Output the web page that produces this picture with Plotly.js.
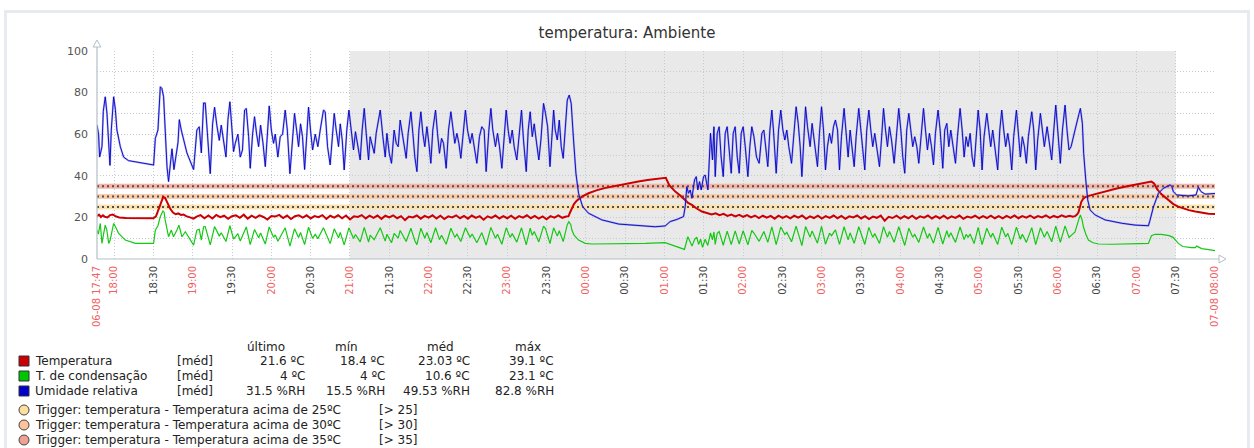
<!DOCTYPE html>
<html><head><meta charset="utf-8">
<script src="https://cdn.plot.ly/plotly-3.0.1.min.js"></script>
<style>
html,body{margin:0;padding:0;background:#fff;width:1254px;height:448px;overflow:hidden;}
#frame{position:absolute;left:4px;top:10px;width:1246px;height:470px;border:3px solid #e7eaee;box-sizing:border-box;}
#chart{position:absolute;left:0;top:0;width:1254px;height:448px;}
</style></head><body>
<div id="frame"></div><div id="chart"></div>
<script>
// ---- time axis: minutes after 06-08 17:47 ----
const startLabel = '06-08 17:47';
const tickLabels = ['06-08 17:47','18:00','18:30','19:00','19:30','20:00','20:30','21:00','21:30','22:00','22:30','23:00','23:30','00:00','00:30','01:00','01:30','02:00','02:30','03:00','03:30','04:00','04:30','05:00','05:30','06:00','06:30','07:00','07:30','07-08 08:00'];
const nonWorkStart = '21:00', nonWorkEnd = '07:30';

// ---- Umidade relativa (%RH) ----
const humT = [0,1.2,2,3.8,4.8,6.3,7.6,8.9,9.9,10.9,
12.7,14,15.2,17.8,20.3,24,31.8,43.2,44.5,46.5,
48.3,49.5,50.8,52,53.4,54.6,55.9,57.2,58.7,60.2,
61.8,62.8,64.3,68.6,73.7,76.2,78,79.6,81.3,82.6,
84.6,86.4,88.2,89.7,91.5,93.3,94.8,96.6,98.4,99.9,
101.4,103,104.2,105.5,107.5,109.3,111,112.6,113.9,115.7,
116.9,118.7,120.2,121.8,123.3,124.8,126.6,128.4,129.9,131.4,
133,134.7,136,138,139.8,141.6,143.6,145.2,147.2,149.2,
150.7,152.3,153.8,155.3,156.8,158.4,159.9,161.4,162.9,164.5,
166.5,168.5,170.3,172.8,174.1,175.9,177.9,179.5,181,182.5,
184.3,185.6,187.1,188.6,190.6,192.2,193.7,195.7,197.2,198.8,
200.8,202.3,203.9,205.4,207.2,208.4,210,211.5,213,216.1,
218.1,219.9,221.2,223,224.7,226.7,228.3,229.8,231.3,232.8,
234.4,235.9,237.4,239.5,241,242.5,244.1,245.6,247.1,248.6,
250.1,251.7,253.2,254.7,256.2,258.3,259.8,261.3,262.9,264.4,
266.4,268.2,270,271.5,273,274.6,276.1,277.6,279.1,281.1,
282.7,284.7,286.2,287.8,289.8,291.8,293.6,295.4,296.9,299,
300.5,302,304,305.6,307.1,308.9,310.7,312.2,313.7,315.2,
316.8,318.3,320.3,322.4,323.9,325.4,327.5,329,330.5,332.1,
333.6,335.1,337.1,338.7,340.7,342.2,343.8,345.6,347.1,348.4,
349.6,351.2,352.7,354.2,355.7,357.3,358.8,360.3,361.8,363.6,
365.4,367.4,370.5,375,385.2,398,413.2,425.9,433.5,437.3,
442.4,447.5,448.8,450,451.3,452.6,453.9,455.9,457.2,458.4,
459.7,461,462.8,464,466.1,467.1,468.1,469.6,470.7,471.7,
473.2,474.7,476.2,477.8,479.3,480.8,482.4,483.9,485.4,486.9,
488.5,490,491.5,493,494.6,496.6,498.1,499.6,501.2,503.2,
505.2,507.3,508.8,510.3,511.8,513.4,514.9,516.1,518.2,520,
521.7,523.3,524.8,526.3,527.8,529.9,531.9,533.4,535,536.5,
537.8,539,540.6,542.1,544.1,545.6,547.7,549.7,551.2,552.8,
554.3,555.8,557.3,558.9,560.4,561.9,563.4,565,566.5,568,
570,571.6,573.1,574.6,576.1,577.7,579.2,581.2,582.8,584.3,
585.8,587.3,588.9,590.4,591.9,593.4,595,597,598.5,600.1,
601.6,603.1,604.6,606.2,608.2,609.7,611.7,613.3,614.8,616.3,
617.8,619.4,620.9,622.4,623.9,625.5,627,628.5,630.6,632.1,
633.6,635.1,636.7,638.2,639.7,641.7,643.3,645.3,646.8,648.4,
649.9,651.4,652.9,655,656.5,658.5,660.1,661.6,663.1,664.6,
666.2,667.7,669.2,670.7,672.3,673.8,675.3,676.8,678.9,680.4,
681.9,683.4,685,687.2,688.8,690.3,691.8,693.3,694.9,696.4,
697.9,699.4,701.5,703,704.5,706,707.6,709.1,710.6,713.2,
714.7,716.2,717.7,719.8,721.3,722.8,724.9,726.4,728.4,730,
731.5,733,735,736.6,738.6,740.1,741.6,743.2,744.7,746.2,
749.3,750.3,751.8,752.8,754.4,755.9,757.7,761.5,769.1,781.8,
792,802.2,803.4,806,809.8,813.6,818.7,820,821.2,823.8,
832.7,836.5,838.5,840.3,842.3,845.4,853];
const humV = [64.4,60,49,54,71,78,70,54,45,62,
78,72,62,54,49,47.3,46.3,45.2,58,62,
82.8,82,78,59,44.4,37.2,46,53,43,49,
56,67,62,51,43,62,63.6,51,75,75,
54,41,65,73,64,57,64.4,56,49,67,
75.6,62,51.6,55.6,60,49,52.4,71.6,72.4,58.8,
43.6,60,68.4,60,54,64.4,56,44.4,62,73.6,
62,55.6,60,49,58.8,60,71.6,62,41,55.6,
70,62,54,65,58.8,43,57,73,62,52.4,
60,54,62,71.6,70.8,54,45.2,58.8,70,62,
54,65,57.2,42.8,62,71.6,62,52.4,61.2,54,
47.6,62,72.4,60.4,47.6,58.8,54,50.8,60.4,71.6,
58.8,49,60.4,50.8,46,62,55.6,54,66.8,60.4,
54,48.4,60.4,70.8,60.4,49,42,62,70.8,60.4,
54,63.6,55.6,46,62,71.6,60.4,50.8,58,55.6,
43.6,62,70.8,63.6,55.6,60.4,55.6,48.4,57.2,71.6,
62,55.6,60.4,54,46,58.8,63.6,62,42,62,
72.4,62,54,60.4,54,43.6,60.4,71.6,62,55.6,
62,54,47.6,63.6,71.6,57.2,42,62,70.8,58.8,
65,57.2,47.6,57.2,74.8,70,63.6,44.4,58.8,71.6,
62,57.2,66.8,54,48.4,63.6,76.4,78.8,74.8,57.2,
41.2,31.6,25.2,22,18.8,16.8,15.9,15.5,15.9,18,
19,20.4,25.2,34.8,31.6,33.2,29.2,38,39.6,33.2,
37.2,33.2,39.6,40.4,33.2,46,60.4,47.6,63.6,39.6,
60.4,63.6,49,39.6,60.4,63.6,50.8,41.2,60.4,63.6,
49,41.2,60.4,63.6,54,39.6,54,63.6,58.8,49,
46,60.4,62,54,44.4,62,71.6,62,41.2,62,
71.6,62,57.2,62,54,46,62,73.2,65.2,54,
39.6,57.2,73.2,63.6,54,65.2,54,44.4,60.4,73.2,
62,42.8,54,60.4,55.6,63.6,66.8,62,42.8,58.8,
72.4,62,49,62,54,44.4,58.8,72.4,62,50.8,
42.8,62,71.6,62,54,60.4,54,44.4,57.2,72.4,
62,54,63.6,57.2,46,58.8,72.4,62,49,41.2,
62,70,62,54,58.8,54,46,58.8,72.4,62,
52.4,60.4,54,45.2,60.4,71.6,62,43.6,62,65.2,
54,62,55.6,46,58.8,72.4,62,49,58.8,54,
60.4,49,44.4,58.8,71.6,62,42.8,58.8,70,62,
54,62,54,42.8,62,71.6,62,54,60.4,54,
42.8,58.8,71.6,62,49,58.8,54,46,58.8,70.8,
62,42.8,57.2,70,62,54,63.6,57.2,47.6,62,
74,62,46,62,74,62,52.4,54,58.8,62,
70,72.4,65.2,50.8,38,28.4,23.6,21.2,18.8,17.2,
16.3,16,18.6,25,31.6,34,35.6,35,32.4,30.8,
30.3,30.8,30.8,34.5,32.4,31.2,31.5];

// ---- Temperatura (ºC) ----
const tempT = [0,1.5,3,4.5,6,8,10,12,14,17,
22,30,43,45,47,49,50.5,52,54,56,
58,60,62,64,66,68,71,73.7,76,79,
82,85,88,91,94,97,100,103,106,109,
112,115,118,121,124,127,130,133,136,139,
142,145,148,151,154,157,160,163,166,169,
172,175,178,181,184,187,190,193,196,199,
202,205,208,211,214,217,220,223,226,229,
232,235,238,241,244,247,250,253,256,259,
262,265,268,271,274,277,280,283,286,289,
292,295,298,301,304,307,310,313,316,319,
322,325,328,331,334,337,340,343,346,349,
352,355,358,359.8,361,362.3,364,366,370,375,
381,388,397,405,413,420,427,432.3,434,436.6,
441.2,445,448.8,451,453.9,457,461.5,464,466.6,469,
472,475,478,481,484,487,490,493,496,499,
502,505,508,511,514,517,520,523,526,529,
532,535,538,541,544,547,550,553,556,559,
562,565,568,571,574,577,580,583,586,589,
592,595,598,601,604,607,610,613,616,619,
622,625,628,631,634,637,640,643,646,649,
652,655,658,661,664,667,670,673,676,679,
682,685,688,691,694,697,700,703,706,709,
712,715,718,721,724,727,730,733,736,739,
742,744.5,746.2,747.5,748.8,750,751,752.5,754,758,
764,771,778,786,794,801,804.5,806.5,809,812,
815,818,821,824.5,828.4,833,838,843,848,853];
const tempV = [20.6,21.3,20.2,21.0,20.3,20.0,21.1,21.4,20.6,20.0,
19.7,19.6,19.6,20.5,24,27.5,29.8,29.3,26.5,24,
22.3,21.5,21.9,21.2,21.4,20.6,20.0,19.4,20.4,21.1,
19.6,20.9,19.5,21.2,20.1,20.8,19.3,20.6,21.0,19.8,
21.3,19.4,20.8,19.8,21.0,20.2,19.0,20.7,20.4,21.2,
19.7,20.9,19.2,20.6,21.0,19.9,21.0,19.5,20.6,20.1,
21.1,19.3,20.8,19.9,21.0,19.6,20.9,19.0,20.5,20.2,
21.1,19.5,20.8,19.8,20.9,19.3,20.8,20.0,21.0,19.6,
20.6,18.7,20.4,20.0,20.9,19.4,20.7,19.9,21.0,19.5,
20.8,19.2,20.5,20.0,21.0,19.6,20.7,19.4,20.9,19.8,
20.6,18.9,20.5,19.8,20.9,19.5,20.6,19.6,20.8,19.3,
20.6,19.9,21.0,19.6,20.7,19.4,20.5,19.1,20.6,19.9,
21.0,19.8,20.4,20.6,22.5,24.6,26.5,28,30,31.6,
33,34.2,35.4,36.4,37.3,38,38.6,39.1,39.0,35.5,
32.4,30.5,28.4,27,26,24.5,22.8,22.3,22.0,21.4,
22.0,21.1,21.7,20.7,21.4,20.5,21.2,20.3,21.1,20.0,
20.9,19.7,20.8,19.9,20.7,19.4,20.8,19.8,20.6,19.5,
20.8,19.9,20.9,19.3,20.5,19.7,20.8,19.4,20.6,19.8,
20.9,19.6,20.7,19.3,20.5,20.0,20.9,19.5,20.6,19.2,
20.4,19.8,20.9,18.4,20.3,19.7,20.8,19.4,20.6,19.6,
20.8,19.3,20.5,19.9,20.9,19.5,20.6,19.6,20.8,19.4,
20.5,19.8,20.9,19.3,20.4,19.9,20.8,19.5,20.6,19.7,
20.8,19.6,20.6,19.5,20.7,19.8,20.9,19.6,20.6,19.9,
20.9,19.7,20.6,20.0,21.0,19.8,20.7,20.0,21.0,20.2,
20.8,20.3,20.6,21.2,22.3,24.8,27.5,29,29.8,30.6,
31.6,32.9,33.9,35,35.9,36.8,37.2,36.3,33.5,31.2,
29.6,28,26.5,25.3,24.4,23.5,22.8,22.2,21.8,21.6];

// ---- T. de condensação (ºC) ----
const dewT = [0,1,2.5,3.8,5,6.3,7.5,8.9,10,12.7,
14.5,16.5,21.6,29.2,43.2,44.5,46.5,48.3,50.3,51.2,
52,54.6,56.7,58.4,61,62.5,64.8,67.4,73.7,76.2,
78,79.6,81.3,82.6,86.4,89.7,93.3,94.8,98.4,101.4,
104.2,107.5,109.3,113.9,116.9,120.2,123.3,124.8,128.4,131.4,
134.7,136,138,143.6,147.2,150.7,153.8,155.3,158.4,161.4,
164.5,166.5,168.5,172.8,177.9,181,184.3,185.6,188.6,192.2,
195.7,197.2,200.8,203.9,207.2,208.4,211.5,216.1,219.9,221.2,
224.7,226.7,229.8,231.3,235.9,239.5,242.5,244.1,247.1,250.1,
251.7,254.7,258.3,261.3,262.9,266.4,270,273,274.6,277.6,
281.1,284.7,286.2,289.8,293.6,296.9,300.5,304,305.6,308.9,
312.2,315.2,316.8,320.3,323.9,327.5,330.5,332.1,333.6,337.1,
340.7,342.2,345.6,348.4,351.2,352.7,355.7,358.8,360,361.5,
362.3,364,367.4,372.5,377.6,392.9,405,418.3,433.5,438.6,
443,448.2,449,450.8,452.6,454,456,457.6,459,460.5,
462,464,466,468.1,469.6,470.7,471.7,473.2,474.7,477.8,
480.8,483.9,486.9,490,493,496.6,499.6,501.2,505.2,508.8,
511.8,514.9,518.2,521.7,524.8,526.3,529.9,533.4,537.8,540.6,
544.1,545.6,549.7,552.8,555.8,558.9,560.4,563.4,566.5,570,
573.1,574.6,577.7,581.2,585.8,588.9,591.9,593.4,597,600.1,
603.1,604.6,608.2,611.7,616.3,619.4,622.4,623.9,627,630.6,
633.6,635.1,638.2,641.7,645.3,648.4,649.9,651.4,655,658.5,
661.6,663.1,664.6,666.2,669.2,672.3,675.3,678.9,681.9,683.4,
687.2,690.3,693.3,694.9,697.9,701.5,704.5,706,709.1,713.2,
716.2,719.8,722.8,724.9,728.4,731.5,735,738.6,741.6,744.7,
746.2,749.3,750.3,751.5,752.6,754.4,756.4,760,764,775,
787,795,802.2,804.5,807.2,812,818,821,825,828.4,
835,838,839,842.8,847,851.7,853];
const dewV = [13.9,12,17.1,7.5,12,16.3,14,7.5,9,17.1,
15,12.3,9.1,7.5,7.5,13.9,16,20.4,23.1,22.5,
18.8,10.7,13.9,10.7,13.9,16.3,10.7,13.1,6.7,13.9,
14.3,9.1,15.5,15.6,6.8,15.6,11,12.6,8.4,16,
9.6,12.2,8.6,15.4,6.9,14.2,10.2,12.5,7.2,15.4,
10.4,11.6,8.5,15,6.2,14.6,10.3,12.8,6.9,15.3,
9.9,11.8,9.8,15,7.4,14.5,10.2,12.8,6.8,15,
9.9,11.8,8.2,15.2,8.1,11.5,9.3,15,8.6,11.9,
7.8,12.3,10,13.7,8.4,14.8,8.8,6.9,14.8,10,
12.7,7.8,15,9.3,11.4,7.1,14.8,10.4,11.9,8.4,
15,10.4,12,7.8,12.7,6.7,15.2,10,11.9,7.1,
15,10.4,12.2,8.1,15,6.8,14.8,11.4,13.2,8.2,
15.8,14.6,7.4,15,11,13.6,8.4,16.5,17.9,16.5,
13.9,11.5,9.1,7.5,7.2,7.2,7.3,7.5,7.9,6.7,
5.8,4.6,6.5,10.7,8.2,6.2,9.5,10.5,7,9.5,
5.6,9.5,6.5,12.5,9.2,13,7,12.3,13.2,6.6,
13.4,6.9,13.5,7.2,13.6,6.8,13.7,12.5,8.5,13.2,
8,15.4,6.9,15.4,11.8,12.8,8.3,15.8,6.4,15.6,
10.5,13.5,7.6,15.7,7.1,12.4,11.2,14,7,15.5,
9.2,12.6,7.5,15.5,7,15.2,10.4,12.2,7.5,15.5,
10.4,13.2,8,15.5,6.5,14.8,10.5,11.8,8,15.4,
10,12.3,7.6,15.2,7.2,13.6,10.4,12.6,8,15.4,
9.3,11.8,10.5,12,7.4,15.2,6.9,14.8,10.4,12.4,
7,15.3,10.6,12.3,7,15.3,9.5,11.9,8,15.1,
6.9,15,10.5,13.2,8.3,15.8,8,15.9,10.4,12.2,
13,19.5,21.2,19,15.5,12,9.1,7.8,7.2,7.1,
7.1,7.4,7.5,11.2,11.9,11.8,11.2,10.4,7.5,6,
5.5,5.5,6.2,5.0,4.6,4.1,4.0];

// ---- triggers ----
const triggerLevels = [25, 30, 35];
const triggerNames = ['Trigger: temperatura - Temperatura acima de 25ºC','Trigger: temperatura - Temperatura acima de 30ºC','Trigger: temperatura - Temperatura acima de 35ºC'];
const triggerConds = ['[> 25]','[> 30]','[> 35]'];
const triggerColors = ['#fedf9f','#fdc49c','#eea392'];
const triggerBand = ['#fde3ab','#fcccaa','#f6b4a6'];

// ---- legend table ----
const seriesNames = ['Temperatura','T. de condensação','Umidade relativa'];
const seriesColors = ['#cc0000','#00c800','#0000cc'];
const seriesFunc = ['[méd]','[méd]','[méd]'];
const statHeads = ['último','mín','méd','máx'];
const statLast = ['21.6 ºC','4 ºC','31.5 %RH'];
const statMin  = ['18.4 ºC','4 ºC','15.5 %RH'];
const statAvg  = ['23.03 ºC','10.6 ºC','49.53 %RH'];
const statMax  = ['39.1 ºC','23.1 ºC','82.8 %RH'];

// ---- helpers ----
const BASE = Date.UTC(2013,7,6,17,47);
const toDate = t => new Date(BASE + t*60000).toISOString().slice(0,19).replace('T',' ');
const hm = s => { const p = s.slice(-5).split(':'); return (+p[0])*60 + (+p[1]); };
const off = s => ((hm(s) - hm(startLabel)) % 1440 + 1440) % 1440;
const tickOff = tickLabels.map(off);
const tickVals = tickOff.map(toDate);
const tickText = tickLabels.map(s => {
  const red = s.length > 5 || s.endsWith(':00');
  return '<span style="color:' + (red ? '#f06262' : '#444') + '">' + s + '</span>';
});
const tEnd = tickOff[tickOff.length-1];

const L = 97, R = 1215, TOP = 51, BOT = 259;
const px = x => (x - L) / (R - L);
const py = y => (BOT - y) / (BOT - TOP);

const traces = [];
triggerLevels.forEach((lv, i) => {
  traces.push({x:[toDate(0), toDate(tEnd)], y:[lv, lv], mode:'lines', line:{color:triggerBand[i], width:5}, hoverinfo:'skip', showlegend:false});
  traces.push({x:[toDate(0), toDate(tEnd)], y:[lv, lv], mode:'lines', line:{color:'#505050', width:2, dash:'2px,3px'}, hoverinfo:'skip', showlegend:false});
});
traces.push({x: tempT.map(toDate), y: tempV, mode:'lines', line:{color:seriesColors[0], width:2}, name:seriesNames[0], showlegend:false});
traces.push({x: dewT.map(toDate), y: dewV, mode:'lines', line:{color:'#14c814', width:1.2}, name:seriesNames[1], showlegend:false});
traces.push({x: humT.map(toDate), y: humV, mode:'lines', line:{color:'rgba(110,110,230,0.5)', width:2}, hoverinfo:'skip', showlegend:false});
traces.push({x: humT.map(toDate), y: humV, mode:'lines', line:{color:'#0000c8', width:0.9}, name:seriesNames[2], showlegend:false});

const axisCol = '#b4c0c8';
const shapes = [
  {type:'rect', xref:'x', yref:'paper', x0:toDate(off(nonWorkStart)), x1:toDate(off(nonWorkEnd)), y0:0, y1:1, fillcolor:'#e9e9e9', line:{width:0}, layer:'below'},
  {type:'line', xref:'paper', yref:'paper', x0:0, x1:0, y0:0, y1:py(46), line:{color:axisCol, width:1.2}, layer:'above'},
  {type:'line', xref:'paper', yref:'paper', x0:0, x1:px(1220), y0:0, y1:0, line:{color:axisCol, width:1.2}, layer:'above'},
  {type:'path', xref:'paper', yref:'paper', path:`M ${px(93)},${py(47)} L ${px(97)},${py(40)} L ${px(101)},${py(47)} Z`, fillcolor:'#ffffff', line:{color:axisCol, width:1}, layer:'above'},
  {type:'path', xref:'paper', yref:'paper', path:`M ${px(1219)},${py(255)} L ${px(1226)},${py(259)} L ${px(1219)},${py(263)} Z`, fillcolor:'#ffffff', line:{color:axisCol, width:1}, layer:'above'}
];

const annotations = [];
const F = {family:'DejaVu Sans, sans-serif', size:12, color:'#222'};
const headX = [266, 346, 440, 528];
statHeads.forEach((h,i) => annotations.push({xref:'paper', yref:'paper', x:px(headX[i]), y:py(347), text:h, showarrow:false, xanchor:'center', yanchor:'middle', font:F}));
const rowY = [361, 376, 391];
const valX = [307, 387, 472, 556];
seriesNames.forEach((n,i) => {
  shapes.push({type:'rect', xref:'paper', yref:'paper', x0:px(19), x1:px(29), y0:py(rowY[i]+5), y1:py(rowY[i]-5), fillcolor:seriesColors[i], line:{color:'#333', width:1}});
  annotations.push({xref:'paper', yref:'paper', x:px(33), y:py(rowY[i]), text:n, showarrow:false, xanchor:'left', yanchor:'middle', font:F});
  annotations.push({xref:'paper', yref:'paper', x:px(175), y:py(rowY[i]), text:seriesFunc[i], showarrow:false, xanchor:'left', yanchor:'middle', font:F});
  [statLast, statMin, statAvg, statMax].forEach((arr,j) => annotations.push({xref:'paper', yref:'paper', x:px(valX[j]), y:py(rowY[i]), text:arr[i], showarrow:false, xanchor:'right', yanchor:'middle', font:F}));
});
const trigY = [410, 425, 440];
triggerNames.forEach((n,i) => {
  shapes.push({type:'circle', xref:'paper', yref:'paper', x0:px(19), x1:px(29), y0:py(trigY[i]+5), y1:py(trigY[i]-5), fillcolor:triggerColors[i], line:{color:'#444', width:1}});
  annotations.push({xref:'paper', yref:'paper', x:px(33), y:py(trigY[i]), text:n, showarrow:false, xanchor:'left', yanchor:'middle', font:F});
  annotations.push({xref:'paper', yref:'paper', x:px(377), y:py(trigY[i]), text:triggerConds[i], showarrow:false, xanchor:'left', yanchor:'middle', font:F});
});

const gridCol = '#c3ccd2';
const layout = {
  width:1254, height:448,
  margin:{l:L, r:1254-R, t:TOP, b:448-BOT, pad:0},
  paper_bgcolor:'rgba(0,0,0,0)', plot_bgcolor:'rgba(0,0,0,0)',
  title:{text:'temperatura: Ambiente', x:0.5, xref:'container', y:1-33/448, yref:'container', xanchor:'center', yanchor:'middle', font:{family:'DejaVu Sans, sans-serif', size:15, color:'#333'}},
  showlegend:false,
  xaxis:{type:'date', range:[toDate(0), toDate(tEnd)], tickmode:'array', tickvals:tickVals, ticktext:tickText, tickangle:-90,
    tickfont:{family:'DejaVu Sans, sans-serif', size:10}, showgrid:true, gridcolor:gridCol, griddash:'1px,2px', gridwidth:1,
    zeroline:false, showline:false, ticks:'', ticklabelstandoff:4, fixedrange:true},
  yaxis:{range:[0,100], tickmode:'linear', tick0:0, dtick:20, showgrid:true, gridcolor:gridCol, griddash:'1px,2px', gridwidth:1,
    minor:{dtick:10, showgrid:true, gridcolor:gridCol, griddash:'1px,2px', gridwidth:1, ticks:''},
    tickfont:{family:'DejaVu Sans, sans-serif', size:11, color:'#555'}, zeroline:false, showline:false, ticks:'', ticklabelstandoff:8, fixedrange:true},
  shapes:shapes, annotations:annotations
};
Plotly.newPlot('chart', traces, layout, {displayModeBar:false, staticPlot:true});
</script></body></html>
